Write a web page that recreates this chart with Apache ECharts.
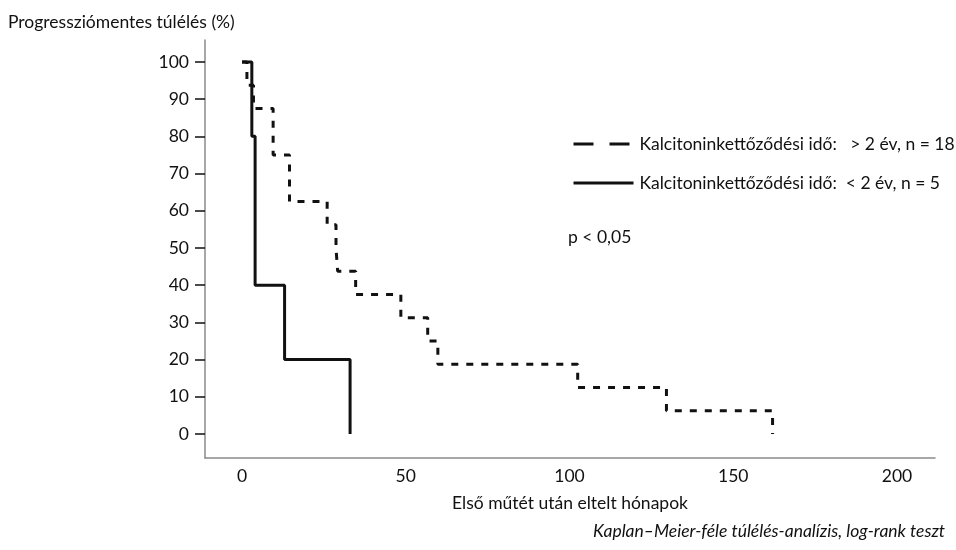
<!DOCTYPE html>
<html>
<head>
<meta charset="utf-8">
<script src="https://cdn.jsdelivr.net/npm/echarts@6/dist/echarts.min.js"></script>
<style>
  html, body { margin: 0; padding: 0; background: #fff; }
  #chart { width: 956px; height: 550px; }
</style>
</head>
<body>
<div id="chart"></div>
<script>
// Kaplan-Meier görbék (hónap, túlélés %)
const longTimes = [0, 1.5, 3.5, 9.5, 14.5, 26, 28.7, 29.2, 34.7, 48.5, 56.7, 59.8, 102.5, 129.6, 162]
const longSurv = [100, 93.75, 87.5, 75, 62.5, 56.25, 50, 43.75, 37.5, 31.25, 25, 18.75, 12.5, 6.25, 0]
const shortTimes = [0, 3, 4, 13, 33]
const shortSurv = [100, 80, 40, 20, 0]

const longName = 'Kalcitoninkettőződési idő:   > 2 év, n = 18'
const shortName = 'Kalcitoninkettőződési idő:  < 2 év, n = 5'

const yTicks = [0, 10, 20, 30, 40, 50, 60, 70, 80, 90, 100]
const xTicks = [0, 50, 100, 150, 200]

const FONT = 'Lato'
const FS = 17.5
const INK = '#111'

function pairs (xs, ys) {
  return xs.map((x, i) => [x, ys[i]])
}

let chart = echarts.init(document.getElementById('chart'))
let option = {
  animation: false,
  backgroundColor: '#fff',
  grid: { left: 205, right: 21, top: 40, bottom: 92 },
  legend: {
    orient: 'vertical',
    left: 567,
    top: 129,
    itemWidth: 60,
    itemHeight: 14,
    itemGap: 19,
    itemStyle: { opacity: 0 },
    textStyle: { fontFamily: FONT, fontSize: FS, lineHeight: 20, color: INK, padding: [0, 0, 0, 1] },
    data: [
      { name: longName, lineStyle: { type: [20, 16], width: 3, color: INK } },
      { name: shortName, lineStyle: { width: 3, color: INK } }
    ]
  },
  xAxis: {
    type: 'value',
    min: -11.3,
    max: 211.6,
    name: 'Első műtét után eltelt hónapok',
    nameLocation: 'middle',
    nameGap: 36,
    nameTextStyle: { fontFamily: FONT, fontSize: FS, color: INK },
    axisLine: { show: true, onZero: false, lineStyle: { color: '#8a8a8a', width: 1.5 } },
    axisTick: { show: false },
    splitLine: { show: false },
    axisLabel: {
      customValues: xTicks,
      fontFamily: FONT, fontSize: FS, color: INK, margin: 9
    }
  },
  yAxis: {
    type: 'value',
    min: -6.45,
    max: 105.9,
    axisLine: { show: true, onZero: false, lineStyle: { color: '#8a8a8a', width: 1.5 } },
    axisTick: {
      show: true,
      customValues: yTicks,
      length: 10,
      lineStyle: { color: INK, width: 1.5 }
    },
    splitLine: { show: false },
    axisLabel: {
      customValues: yTicks,
      fontFamily: FONT, fontSize: FS, color: INK, margin: 16
    }
  },
  series: [
    {
      name: longName,
      type: 'line',
      step: 'end',
      symbol: 'none',
      data: pairs(longTimes, longSurv),
      lineStyle: { color: INK, width: 3, type: [7, 8] },
      itemStyle: { color: INK }
    },
    {
      name: shortName,
      type: 'line',
      step: 'end',
      symbol: 'none',
      data: pairs(shortTimes, shortSurv),
      lineStyle: { color: INK, width: 3 },
      itemStyle: { color: INK }
    }
  ],
  graphic: [
    {
      type: 'text', left: 8, top: 13,
      style: { text: 'Progressziómentes túlélés (%)', font: FS + 'px ' + FONT, fill: INK }
    },
    {
      type: 'text', left: 568, top: 228,
      style: { text: 'p < 0,05', font: FS + 'px ' + FONT, fill: INK }
    },
    {
      type: 'text', right: 11, top: 522,
      style: { text: 'Kaplan–Meier-féle túlélés-analízis, log-rank teszt', font: 'italic ' + FS + 'px ' + FONT, fill: INK }
    }
  ]
}
chart.setOption(option)
window.onresize = function () {
  chart.resize()
}
</script>
</body>
</html>
